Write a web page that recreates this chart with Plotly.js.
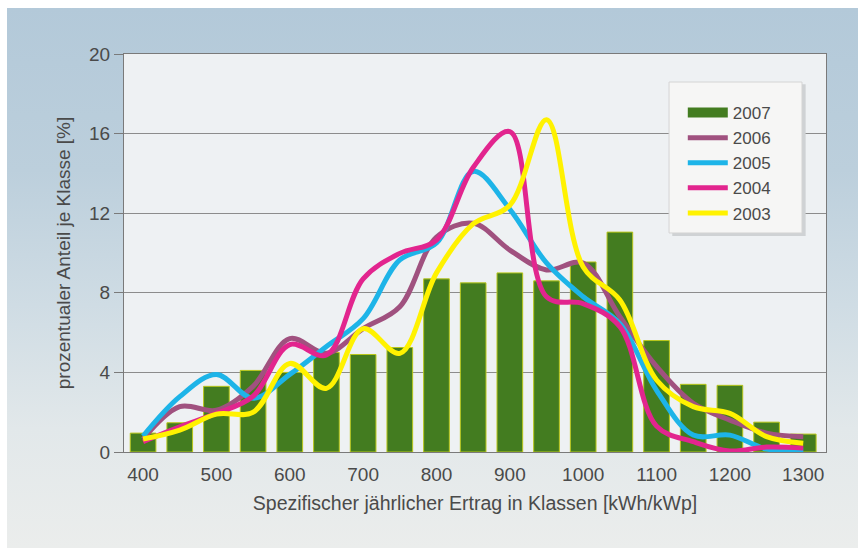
<!DOCTYPE html>
<html>
<head>
<meta charset="utf-8">
<script src="https://cdn.plot.ly/plotly-3.0.1.min.js"></script>
<style>
  html, body { margin: 0; padding: 0; background: #ffffff; }
  #wrap { position: relative; width: 858px; height: 548px; overflow: hidden; }
  #bg { position: absolute; left: 7px; top: 8px; width: 851px; height: 540px;
        background: linear-gradient(to bottom, #b3c9d9 0%, #bccfdc 30%, #cfdce4 55%, #e2e8ea 78%, #ebedec 100%); }
  #chart { position: absolute; left: 0; top: 0; width: 858px; height: 548px; }
</style>
</head>
<body>
<div id="wrap"><div id="bg"></div><div id="chart"></div></div>
<script>
// Classes (kWh/kWp)
var categories = [400, 450, 500, 550, 600, 650, 700, 750, 800, 850, 900, 950, 1000, 1050, 1100, 1150, 1200, 1250, 1300];
var seriesNames = ["2007", "2006", "2005", "2004", "2003"];
// 2007 bars
var y2007 = [0.95, 1.47, 3.3, 4.1, 4.0, 5.0, 4.9, 5.25, 8.7, 8.5, 9.0, 8.6, 9.55, 11.05, 5.6, 3.4, 3.35, 1.5, 0.9];
// lines
var y2006 = [0.65, 2.28, 2.1, 3.3, 5.7, 4.96, 6.2, 7.3, 10.8, 11.5, 10.15, 9.15, 9.5, 6.8, 4.3, 2.45, 1.6, 0.95, 0.77];
var y2005 = [0.8, 2.78, 3.9, 2.7, 3.9, 5.3, 6.7, 9.65, 10.5, 14.1, 12.2, 9.5, 7.8, 6.45, 3.1, 0.85, 0.85, 0.15, 0.1];
var y2004 = [0.52, 1.27, 1.94, 2.8, 5.4, 4.87, 8.7, 9.98, 10.65, 14.3, 16.1, 7.8, 7.45, 6.3, 1.3, 0.52, 0.05, 0.25, 0.2];
var y2003 = [0.65, 1.1, 1.9, 2.0, 4.45, 3.2, 6.2, 4.96, 9.0, 11.46, 12.4, 16.7, 9.3, 7.64, 3.62, 2.28, 1.94, 0.77, 0.44];
var yTicks = [0, 4, 8, 12, 16, 20];
var xTicks = [400, 500, 600, 700, 800, 900, 1000, 1100, 1200, 1300];

var lineColors = {"2006": "#a0517f", "2005": "#1db4e8", "2004": "#e2258e", "2003": "#fff200"};
var lineData = {"2006": y2006, "2005": y2005, "2004": y2004, "2003": y2003};

var traces = [];
traces.push({
  type: "bar", name: seriesNames[0], x: categories, y: y2007, width: 35,
  marker: {color: "#437c20", line: {color: "#b9c71a", width: 1}},
  showlegend: false, hoverinfo: "x+y"
});
// legend proxy for the bars (wide swatch like the original)
traces.push({
  type: "scatter", mode: "lines", name: seriesNames[0], x: [null], y: [null],
  line: {color: "#437c20", width: 10}, showlegend: true
});
seriesNames.slice(1).forEach(function (n) {
  traces.push({
    type: "scatter", mode: "lines", name: n, x: categories, y: lineData[n],
    line: {color: lineColors[n], width: 5, shape: "spline", smoothing: 1}
  });
});

var textColor = "#4a4a4a";
var layout = {
  width: 858, height: 548,
  margin: {l: 124, r: 32, t: 54, b: 96},
  paper_bgcolor: "rgba(0,0,0,0)",
  plot_bgcolor: "#eef1f3",
  font: {family: "Liberation Sans, Arial, sans-serif", color: textColor, size: 19},
  showlegend: true,
  bargap: 0,
  xaxis: {
    range: [374, 1331], tickvals: xTicks, ticktext: xTicks.map(String),
    showgrid: false, zeroline: false,
    showline: true, linecolor: "#7a7a7a", linewidth: 1, mirror: true,
    ticks: "outside", ticklen: 5, tickcolor: "rgba(0,0,0,0)",
    tickfont: {size: 19, color: textColor},
    title: {text: "Spezifischer jährlicher Ertrag in Klassen [kWh/kWp]", font: {size: 19.5, color: textColor}, standoff: 12}
  },
  yaxis: {
    range: [0, 20], tickvals: yTicks, ticktext: yTicks.map(String),
    showgrid: true, gridcolor: "#8c8c8c", gridwidth: 1, zeroline: false,
    showline: true, linecolor: "#7a7a7a", linewidth: 1, mirror: true,
    ticks: "outside", ticklen: 9, tickcolor: "#7a7a7a",
    tickfont: {size: 19, color: textColor},
    title: {text: "prozentualer Anteil je Klasse [%]", font: {size: 19, color: textColor}, standoff: 13}
  },
  legend: {
    x: 0.796, y: 0.897, xanchor: "left", yanchor: "top",
    bgcolor: "rgba(0,0,0,0)", borderwidth: 0,
    font: {size: 17, color: textColor},
    itemwidth: 40, traceorder: "normal"
  },
  shapes: [
    {type: "rect", xref: "paper", yref: "paper", x0: 0.781, x1: 0.971, y0: 0.543, y1: 0.924,
     fillcolor: "#cfd2d4", line: {width: 0}, layer: "above"},
    {type: "rect", xref: "paper", yref: "paper", x0: 0.7764, x1: 0.9658, y0: 0.5503, y1: 0.9296,
     fillcolor: "#f6f6f5", line: {color: "#d4d4d4", width: 1}, layer: "above"}
  ]
};

Plotly.newPlot("chart", traces, layout, {displayModeBar: false, staticPlot: true});
</script>
</body>
</html>
